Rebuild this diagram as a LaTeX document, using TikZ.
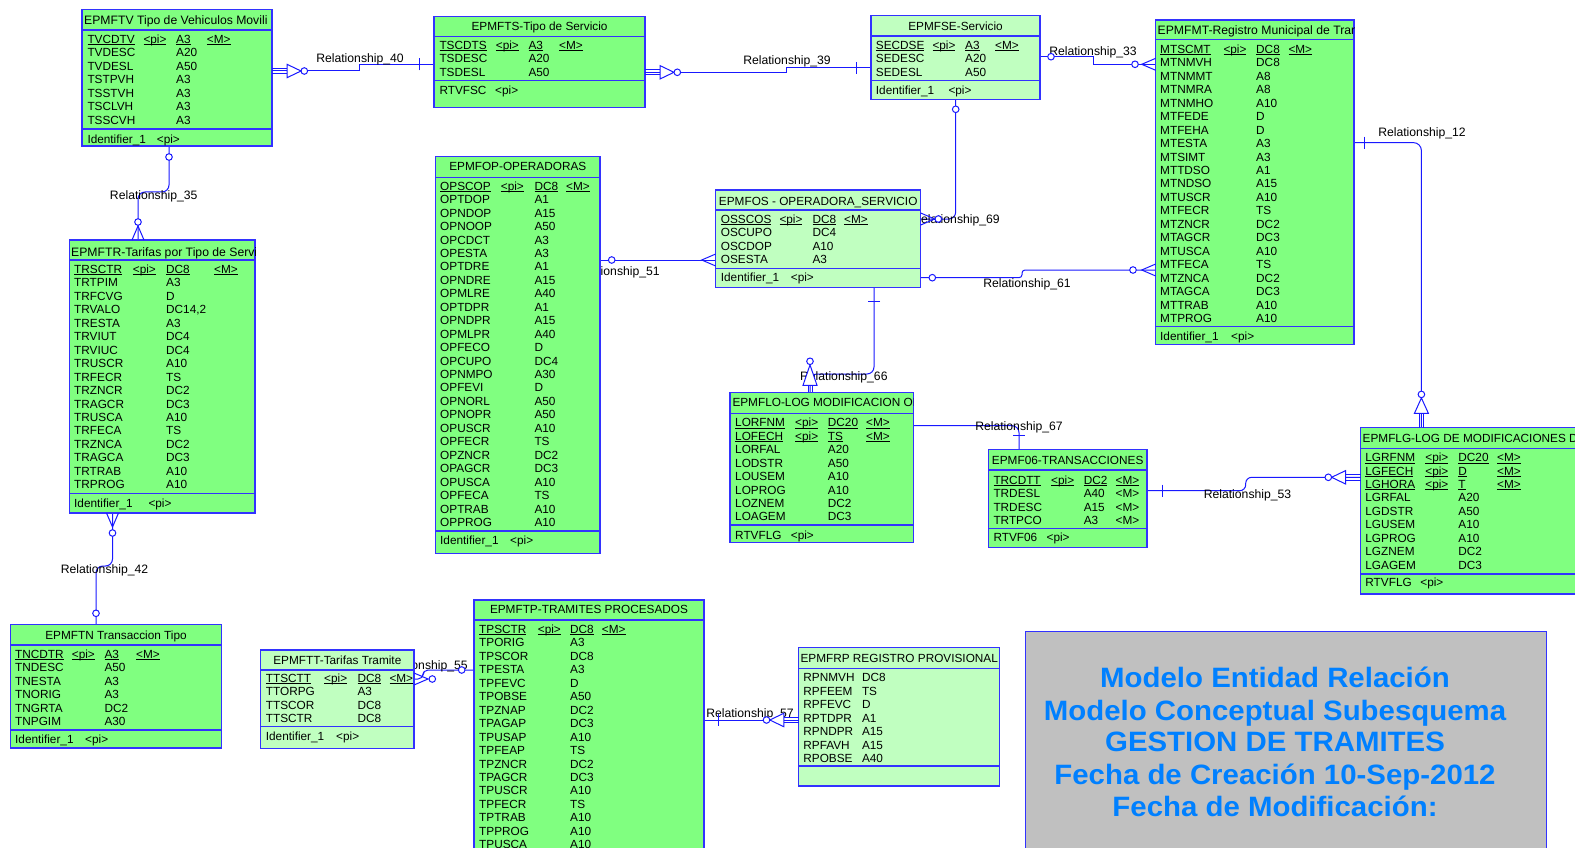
\documentclass[tikz,border=0pt]{standalone}
\usepackage{fontspec}
\usepackage{graphicx}
\setmainfont{Liberation Sans}
\newfontfamily\titlefont{Liberation Sans}[FakeStretch=1.05]
\usetikzlibrary{calc}
\pgfdeclarelayer{bg}
\pgfsetlayers{bg,main}
\definecolor{egreen}{RGB}{128,255,128}
\definecolor{lgreen}{RGB}{192,255,192}
\definecolor{eblue}{RGB}{50,50,255}
\definecolor{lblue}{RGB}{25,25,255}
\definecolor{tblue}{RGB}{0,128,255}
\definecolor{tgray}{RGB}{192,192,192}
\newlength\ulw
\newcommand\ulx[1]{\settowidth\ulw{#1}\rlap{\rule[-1.7pt]{\ulw}{1.1pt}}#1}
\tikzset{
  ebox/.style={draw=eblue, line width=1.3pt, inner sep=0pt, outer sep=0pt},
  esep/.style={draw=eblue, line width=1.3pt},
  etxt/.style={anchor=base west, inner sep=0pt, font=\fontsize{11.8}{13}\selectfont},
  httl/.style={inner sep=0pt, font=\fontsize{11.8}{13}\selectfont},
  wttl/.style={inner sep=0pt, font=\fontsize{12.2}{13}\selectfont},
  rel/.style={draw=lblue, line width=1pt},
  rlab/.style={anchor=base, inner sep=0pt, font=\fontsize{12.2}{13}\selectfont},
  ocirc/.style={draw=lblue, line width=1pt, fill=white},
  ttxt/.style={anchor=base, inner sep=0pt, text=tblue, font=\titlefont\bfseries\fontsize{28}{30}\selectfont},
}
% entity box
\newcommand\entbox[8]{%
  \node[ebox, fill=#8, anchor=north west, minimum width={(#4)-(#2)}, minimum height={(#5)-(#3)}] (#1) at (#2,#3) {};
  \draw[esep] (#1.west |- 0,#6) -- (#1.east |- 0,#6);
  \draw[esep] (#1.west |- 0,#7) -- (#1.east |- 0,#7);
}
\newcommand\ttlc[4]{\node[httl,anchor=base] (#1-ttl) at (#2,#3+4.3) {#4};}
% left-aligned, clipped title; #5 = style
\newcommand\ttll[5]{\begin{scope}\clip (#1.north west) rectangle (#1.south east);
  \node[#5,anchor=base west] (#1-ttl) at (#2,#3+4.3) {#4};\end{scope}}
\newcommand\epk[8]{%
  \node[etxt] (#1-#7) at (#3,#2+4.2) {\ulx{#7}};
  \node[etxt] (#1-#7-p) at (#4,#2+4.2) {\ulx{<pi>}};
  \node[etxt] (#1-#7-t) at (#5,#2+4.2) {\ulx{#8}};
  \node[etxt] (#1-#7-m) at (#6,#2+4.2) {\ulx{<M>}};}
\newcommand\erows[5]{%
  \foreach \nm/\ty [count=\i] in {#5} {
    \node[etxt] (#1-n\i) at (#2,#4+13.45*\i+4.2) {\nm};
    \node[etxt] (#1-t\i) at (#3,#4+13.45*\i+4.2) {\ty};
  }}
\newcommand\efoot[5]{%
  \node[etxt] (#1-f) at (#2,#4+4.2) {#5};
  \node[etxt] (#1-fp) at (#3,#4+4.2) {<pi>};}
% connector end symbols (local +x points away from the entity)
\newcommand\ticksym[3]{\begin{scope}[shift={(#1)},rotate=#2]\draw[rel] (#3,-6) -- (#3,6);\end{scope}}
\newcommand\circsym[3]{\begin{scope}[shift={(#1)},rotate=#2]\draw[ocirc] (#3,0) circle[radius=3.3pt];\end{scope}}
\newcommand\crowsym[2]{\begin{scope}[shift={(#1)},rotate=#2]\draw[rel] (0,-6) -- (14,0) -- (0,6);\end{scope}}
\newcommand\depthree[2]{\begin{scope}[shift={(#1)},rotate=#2]
  \draw[rel] (0,-2.7) -- (15,-2.7) (0,0) -- (15,0) (0,2.7) -- (15,2.7);
  \draw[rel,fill=white] (15,-6.7) -- (29,0) -- (15,6.7) -- cycle;
  \draw[ocirc] (32.3,0) circle[radius=3.3pt];\end{scope}}
\newcommand\deptwo[4]{\begin{scope}[shift={(#1)},rotate=#2]
  \draw[rel] (0,-2) -- (#3,-2) (0,2) -- (#3,2);
  \draw[rel,fill=white] (#3,-7) -- (#4-3.6,0) -- (#3,7) -- cycle;
  \draw[ocirc] (#4,0) circle[radius=3.3pt];\end{scope}}
\begin{document}
\begin{tikzpicture}[x=1pt,y=-1pt]
\useasboundingbox (0,0) rectangle (1575,848);
\begin{pgfonlayer}{bg}
\fill[white] (0,0) rectangle (1575,848);
\end{pgfonlayer}

% ---------------- entities ----------------
\entbox{tv}{82}{9.3}{272}{146}{30}{129}{egreen}
\ttll{tv}{84}{20}{EPMFTV Tipo de Vehiculos Movili}{wttl}
\epk{tv}{39.3}{87.3}{143.3}{176}{206.7}{TVCDTV}{A3}
\erows{tv}{87.3}{176}{39.3}{TVDESC/A20,TVDESL/A50,TSTPVH/A3,TSSTVH/A3,TSCLVH/A3,TSSCVH/A3}
\efoot{tv}{87.3}{156.7}{139.3}{Identifier\_1}

\entbox{ts}{434}{16.7}{645}{107.3}{36.7}{80.7}{egreen}
\ttlc{ts}{539.5}{26.7}{EPMFTS-Tipo de Servicio}
\epk{ts}{45}{439.3}{495.7}{528.3}{559}{TSCDTS}{A3}
\erows{ts}{439.3}{528.3}{45}{TSDESC/A20,TSDESL/A50}
\efoot{ts}{439.3}{495}{90.7}{RTVFSC}

\entbox{se}{871}{15.7}{1040}{99.3}{36}{80.7}{lgreen}
\ttlc{se}{955.5}{26.7}{EPMFSE-Servicio}
\epk{se}{45}{875.7}{932.3}{965}{995}{SECDSE}{A3}
\erows{se}{875.7}{965}{45}{SEDESC/A20,SEDESL/A50}
\efoot{se}{875.7}{948.3}{90.7}{Identifier\_1}

\entbox{mt}{1155.7}{20}{1354}{344.3}{39.3}{326.7}{egreen}
\ttll{mt}{1157.5}{30.7}{EPMFMT-Registro Municipal de Tran}{wttl}
\epk{mt}{49.3}{1160}{1223.3}{1256}{1288.3}{MTSCMT}{DC8}
\erows{mt}{1160}{1256}{49.3}{MTNMVH/DC8,MTNMMT/A8,MTNMRA/A8,MTNMHO/A10,MTFEDE/D,MTFEHA/D,MTESTA/A3,MTSIMT/A3,MTTDSO/A1,MTNDSO/A15,MTUSCR/A10,MTFECR/TS,MTZNCR/DC2,MTAGCR/DC3,MTUSCA/A10,MTFECA/TS,MTZNCA/DC2,MTAGCA/DC3,MTTRAB/A10,MTPROG/A10}
\efoot{mt}{1160}{1231}{336.7}{Identifier\_1}

\entbox{tr}{69.3}{240}{255}{513}{260}{493.3}{egreen}
\ttll{tr}{71}{251.7}{EPMFTR-Tarifas por Tipo de Servi}{wttl}
\epk{tr}{269.3}{74}{132.7}{166}{214}{TRSCTR}{DC8}
\erows{tr}{74}{166}{269.3}{TRTPIM/A3,TRFCVG/D,TRVALO/{DC14,2},TRESTA/A3,TRVIUT/DC4,TRVIUC/DC4,TRUSCR/A10,TRFECR/TS,TRZNCR/DC2,TRAGCR/DC3,TRUSCA/A10,TRFECA/TS,TRZNCA/DC2,TRAGCA/DC3,TRTRAB/A10,TRPROG/A10}
\efoot{tr}{74}{148.3}{503.3}{Identifier\_1}

\entbox{op}{435.7}{156.7}{600}{553.3}{177.7}{531}{egreen}
\ttlc{op}{517.8}{166.7}{EPMFOP-OPERADORAS}
\epk{op}{186}{440}{500.7}{534.3}{566}{OPSCOP}{DC8}
\erows{op}{440}{534.3}{186}{OPTDOP/A1,OPNDOP/A15,OPNOOP/A50,OPCDCT/A3,OPESTA/A3,OPTDRE/A1,OPNDRE/A15,OPMLRE/A40,OPTDPR/A1,OPNDPR/A15,OPMLPR/A40,OPFECO/D,OPCUPO/DC4,OPNMPO/A30,OPFEVI/D,OPNORL/A50,OPNOPR/A50,OPUSCR/A10,OPFECR/TS,OPZNCR/DC2,OPAGCR/DC3,OPUSCA/A10,OPFECA/TS,OPTRAB/A10,OPPROG/A10}
\efoot{op}{440}{510}{540}{Identifier\_1}

\entbox{os}{715.7}{190}{920.7}{287.3}{210}{268.3}{lgreen}
\ttlc{os}{818.2}{200.7}{EPMFOS - OPERADORA\_SERVICIO}
\epk{os}{219}{720.7}{779.3}{812.3}{844}{OSSCOS}{DC8}
\erows{os}{720.7}{812.3}{219}{OSCUPO/DC4,OSCDOP/A10,OSESTA/A3}
\efoot{os}{720.7}{790.7}{277.7}{Identifier\_1}

\entbox{lo}{730}{392.3}{913.3}{542.3}{413.3}{525}{egreen}
\ttll{lo}{732.3}{402.3}{EPMFLO-LOG MODIFICACION OP}{httl}
\epk{lo}{422.7}{735}{795}{827.7}{866}{LORFNM}{DC20}
\epk{lo}{436}{735}{795}{827.7}{866}{LOFECH}{TS}
\erows{lo}{735}{827.7}{436}{LORFAL/A20,LODSTR/A50,LOUSEM/A10,LOPROG/A10,LOZNEM/DC2,LOAGEM/DC3}
\efoot{lo}{735}{790.7}{535}{RTVFLG}

\entbox{f06}{988.3}{449.3}{1147}{547.3}{470}{528.3}{egreen}
\ttlc{f06}{1067.7}{460}{EPMF06-TRANSACCIONES}
\epk{f06}{480}{993.3}{1051}{1083.6}{1115.5}{TRCDTT}{DC2}
\foreach \nm/\ty [count=\i] in {TRDESL/A40,TRDESC/A15,TRTPCO/A3} {
  \node[etxt] (f06-n\i) at (993.3,480+13.45*\i+4.2) {\nm};
  \node[etxt] (f06-t\i) at (1083.6,480+13.45*\i+4.2) {\ty};
  \node[etxt] (f06-m\i) at (1115.5,480+13.45*\i+4.2) {<M>};
}
\efoot{f06}{993.3}{1046.4}{537.3}{RTVF06}

\entbox{lg}{1360.6}{427.7}{1640}{594}{448.3}{574}{egreen}
\ttll{lg}{1362.5}{438.3}{EPMFLG-LOG DE MODIFICACIONES DE}{httl}
\epk{lg}{457.7}{1365.2}{1425.2}{1458.2}{1496.9}{LGRFNM}{DC20}
\epk{lg}{471}{1365.2}{1425.2}{1458.2}{1496.9}{LGFECH}{D}
\epk{lg}{484.3}{1365.2}{1425.2}{1458.2}{1496.9}{LGHORA}{T}
\erows{lg}{1365.2}{1458.2}{484.3}{LGRFAL/A20,LGDSTR/A50,LGUSEM/A10,LGPROG/A10,LGZNEM/DC2,LGAGEM/DC3}
\efoot{lg}{1365.2}{1420.2}{582.7}{RTVFLG}

\entbox{tn}{10.7}{624.3}{221.3}{748}{645}{730}{egreen}
\ttlc{tn}{116}{635}{EPMFTN Transaccion Tipo}
\epk{tn}{654.3}{15}{71.7}{104.3}{136}{TNCDTR}{A3}
\erows{tn}{15}{104.3}{654.3}{TNDESC/A50,TNESTA/A3,TNORIG/A3,TNGRTA/DC2,TNPGIM/A30}
\efoot{tn}{15}{85}{739.3}{Identifier\_1}

\entbox{tt}{260.7}{650}{414}{748.3}{670}{726.7}{lgreen}
\ttlc{tt}{337.3}{660}{EPMFTT-Tarifas Tramite}
\epk{tt}{678.3}{265.7}{324}{357.3}{389.3}{TTSCTT}{DC8}
\erows{tt}{265.7}{357.3}{678.3}{TTORPG/A3,TTSCOR/DC8,TTSCTR/DC8}
\efoot{tt}{265.7}{336}{736.7}{Identifier\_1}

\entbox{tp}{474}{600}{704}{900}{620}{2000}{egreen}
\ttlc{tp}{589}{609.3}{EPMFTP-TRAMITES PROCESADOS}
\epk{tp}{629.3}{479}{537.7}{570}{601.7}{TPSCTR}{DC8}
\erows{tp}{479}{570}{629.3}{TPORIG/A3,TPSCOR/DC8,TPESTA/A3,TPFEVC/D,TPOBSE/A50,TPZNAP/DC2,TPAGAP/DC3,TPUSAP/A10,TPFEAP/TS,TPZNCR/DC2,TPAGCR/DC3,TPUSCR/A10,TPFECR/TS,TPTRAB/A10,TPPROG/A10,TPUSCA/A10}

\entbox{rp}{798.8}{647.3}{999.7}{786}{668.3}{766}{lgreen}
\ttlc{rp}{899.2}{658.3}{EPMFRP REGISTRO PROVISIONAL}
\erows{rp}{803.2}{861.8}{664.25}{RPNMVH/DC8,RPFEEM/TS,RPFEVC/D,RPTDPR/A1,RPNDPR/A15,RPFAVH/A15,RPOBSE/A40}

% title panel
\node[ebox, fill=tgray, anchor=north west, minimum width=521.2, minimum height=400] (tbox) at (1025.3,631.7) {};
\node[ttxt] (tl1) at (1275,677.3+10) {Modelo Entidad Relación};
\node[ttxt] (tl2) at (1275,710+10) {Modelo Conceptual Subesquema};
\node[ttxt] (tl3) at (1275,741.7+10) {GESTION DE TRAMITES};
\node[ttxt] (tl4) at (1275,774+10) {Fecha de Creación 10-Sep-2012};
\node[ttxt] (tl5) at (1275,806+10) {Fecha de Modificación:};

% ---------------- connectors (behind the entities) ----------------
\begin{pgfonlayer}{bg}
\draw[rel] (tv.east |- 0,71) -- (359.3,71) -- (359.3,64.3) -- (ts.west |- 0,64.3);
\node[rlab] (l40) at (360,58.3+4.2) {Relationship\_40};
\draw[rel] (ts.east |- 0,72.3) -- (786.7,72.3) -- (786.7,67.7) -- (se.west |- 0,67.7);
\node[rlab] (l39) at (787,60.7+4.2) {Relationship\_39};
\draw[rel] (se.east |- 0,56.7) -- (1093.3,56.7) -- (1093.3,64.3) -- (mt.west |- 0,64.3);
\node[rlab] (l33) at (1093,51.7+4.2) {Relationship\_33};
\draw[rel, rounded corners=7pt] (se.south -| 955.7,0) -- (955.7,219) -- (os.east |- 0,219);
\node[rlab] (l69) at (956,219+4.2) {Relationship\_69};
\draw[rel, rounded corners=3pt] (os.east |- 0,277.7) -- (1022,277.7) -- (1022,270) -- (mt.west |- 0,270);
\node[rlab] (l61) at (1027,283+4.2) {Relationship\_61};
\draw[rel, rounded corners=8pt] (mt.east |- 0,142.6) -- (1421.4,142.6) -- (lg.north -| 1421.4,0);
\node[rlab] (l12) at (1422,132.6+4.2) {Relationship\_12};
\draw[rel, rounded corners=6pt] (f06.east |- 0,490.7) -- (1245.7,490.7) -- (1245.7,477.3) -- (lg.west |- 0,477.3);
\node[rlab] (l53) at (1247.5,494+4.2) {Relationship\_53};
\draw[rel, rounded corners=7pt] (lo.east |- 0,425.7) -- (1019,425.7) -- (f06.north -| 1019,0);
\node[rlab] (l67) at (1019,426+4.2) {Relationship\_67};
\draw[rel, rounded corners=7pt] (os.south -| 874,0) -- (874,374) -- (810,374) -- (lo.north -| 810,0);
\node[rlab] (l66) at (843.8,376.7+4.2) {Relationship\_66};
\draw[rel] (op.east |- 0,260) -- (os.west |- 0,260);
\node[rlab] (l51) at (616,271.7+4.2) {Relationship\_51};
\draw[rel, rounded corners=7pt] (tv.south -| 169,0) -- (169,192) -- (138,192) -- (tr.north -| 138,0);
\node[rlab] (l35) at (153.7,194.9+4.2) {Relationship\_35};
\draw[rel, rounded corners=7pt] (tr.south -| 112.5,0) -- (112.5,566) -- (96,566) -- (tn.north -| 96,0);
\node[rlab] (l42) at (104.5,569.5+4.2) {Relationship\_42};
\draw[rel, rounded corners=5pt] (tp.west |- 0,670) -- (423,670) -- (423,679) -- (tt.east |- 0,679);
\node[rlab] (l55) at (424,665.7+4.2) {Relationship\_55};
\draw[rel] (tp.east |- 0,720) -- (rp.west |- 0,720);
\node[rlab] (l57) at (750,713.3+4.2) {Relationship\_57};
\end{pgfonlayer}

% ---------------- end symbols ----------------
\depthree{tv.east |- 0,71}{0}
\ticksym{ts.west |- 0,64.3}{180}{14.7}
\depthree{ts.east |- 0,72.3}{0}
\ticksym{se.west |- 0,67.7}{180}{14.3}
\circsym{se.east |- 0,56.7}{0}{11}
\crowsym{mt.west |- 0,64.3}{180}
\circsym{mt.west |- 0,64.3}{180}{20.7}
\circsym{se.south -| 955.7,0}{-90}{10}
\crowsym{os.east |- 0,219}{0}
\circsym{os.east |- 0,219}{0}{17.6}
\circsym{os.east |- 0,277.7}{0}{11.6}
\crowsym{mt.west |- 0,270}{180}
\circsym{mt.west |- 0,270}{180}{22.7}
\ticksym{mt.east |- 0,142.6}{0}{10}
\deptwo{lg.north -| 1421.4,0}{90}{14.3}{33.3}
\ticksym{f06.east |- 0,490.7}{0}{15.2}
\depthree{lg.west |- 0,477.3}{180}
\ticksym{f06.north -| 1019,0}{90}{14.3}
\ticksym{os.south -| 874,0}{-90}{14.4}
\deptwo{lo.north -| 810,0}{90}{7}{31}
\circsym{op.east |- 0,260}{0}{11.7}
\crowsym{os.west |- 0,260}{180}
\circsym{tv.south -| 169,0}{-90}{11}
\crowsym{tr.north -| 138,0}{90}
\circsym{tr.north -| 138,0}{90}{18}
\crowsym{tr.south -| 112.5,0}{-90}
\circsym{tr.south -| 112.5,0}{-90}{20}
\circsym{tn.north -| 96,0}{90}{11}
\circsym{tp.west |- 0,670}{180}{12.3}
\crowsym{tt.east |- 0,679}{0}
\circsym{tt.east |- 0,679}{0}{18.3}
\ticksym{tp.east |- 0,720}{0}{14.4}
\depthree{rp.west |- 0,720}{180}
\end{tikzpicture}
\end{document}
